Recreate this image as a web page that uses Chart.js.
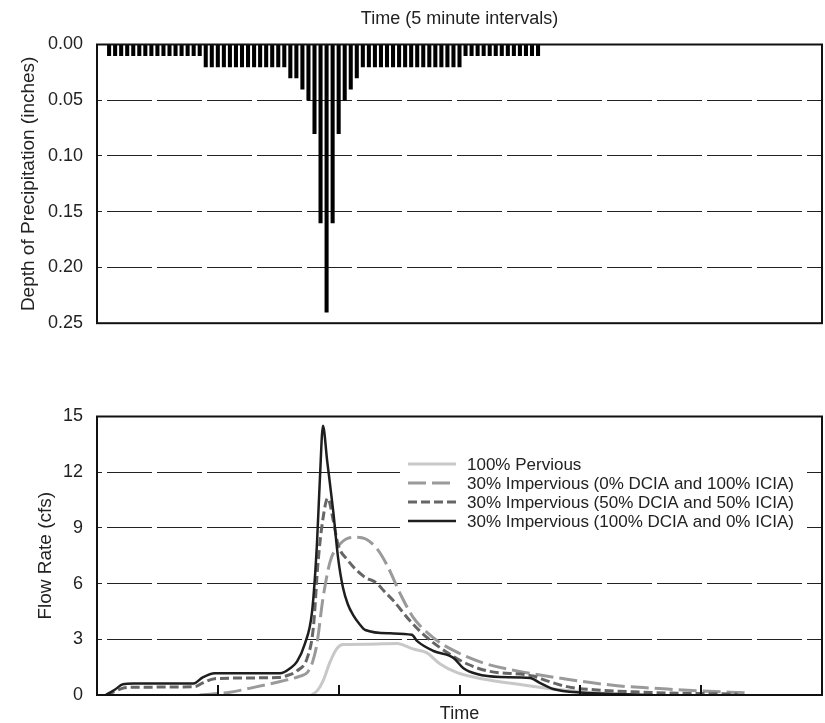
<!DOCTYPE html>
<html>
<head>
<meta charset="utf-8">
<script src="https://cdn.jsdelivr.net/npm/chart.js@4"></script>
<style>
  html, body { margin: 0; padding: 0; background: #fff; overflow: hidden; }
  #wrap { position: relative; width: 825px; height: 723px; }
  canvas { position: absolute; left: 0; }
  #rainChart { top: 0; }
  #flowChart { top: 380px; }
</style>
</head>
<body>
<div id="wrap">
  <canvas id="rainChart" width="825" height="348"></canvas>
  <canvas id="flowChart" width="825" height="345"></canvas>
</div>
<script>
/* ---------- data ---------- */

// hyetograph: 5-minute interval number and depth (inches)
const precipTime = [
   2,  3,  4,  5,  6,  7,  8,  9, 10, 11, 12, 13, 14, 15, 16, 17,
  18, 19, 20, 21, 22, 23, 24, 25, 26, 27, 28, 29, 30, 31,
  32, 33, 34, 35, 36, 37, 38, 39, 40, 41, 42, 43,
  44, 45, 46, 47, 48, 49, 50, 51, 52, 53, 54, 55, 56, 57, 58, 59, 60,
  61, 62, 63, 64, 65, 66, 67, 68, 69, 70, 71, 72, 73
];
const precipDepth = [
  0.01, 0.01, 0.01, 0.01, 0.01, 0.01, 0.01, 0.01, 0.01, 0.01, 0.01, 0.01, 0.01, 0.01, 0.01, 0.01,
  0.02, 0.02, 0.02, 0.02, 0.02, 0.02, 0.02, 0.02, 0.02, 0.02, 0.02, 0.02, 0.02, 0.02,
  0.03, 0.03, 0.04, 0.05, 0.08, 0.16, 0.24, 0.16, 0.08, 0.05, 0.04, 0.03,
  0.02, 0.02, 0.02, 0.02, 0.02, 0.02, 0.02, 0.02, 0.02, 0.02, 0.02, 0.02, 0.02, 0.02, 0.02, 0.02, 0.02,
  0.01, 0.01, 0.01, 0.01, 0.01, 0.01, 0.01, 0.01, 0.01, 0.01, 0.01, 0.01, 0.01
];

// hydrographs (time in 5-minute intervals, flow in cfs)
const seriesLabels = [
  "100% Pervious",
  "30% Impervious (0% DCIA and 100% ICIA)",
  "30% Impervious (50% DCIA and 50% ICIA)",
  "30% Impervious (100% DCIA and 0% ICIA)"
];

const perviousTime = [35.5, 36.5, 37.4, 38.6, 39.7, 40.7, 45, 49.7, 51, 52.3, 54.6, 56.8, 59.6, 63.9, 69.5, 75.5, 80.5, 86, 90];
const perviousFlow = [0, 0.25, 0.75, 1.8, 2.5, 2.72, 2.74, 2.78, 2.65, 2.48, 2.27, 1.67, 1.2, 0.86, 0.59, 0.32, 0.16, 0.05, 0];

const icia100Time = [17, 22, 26.5, 30, 32, 33.5, 34.9, 35.7, 36.4, 37.4, 38.6, 39.9, 41.6, 43, 44.5, 46.3, 48, 50.2, 52.3, 55.6, 59, 63.9, 69.5, 77.8, 86.1, 94.4, 99.8, 107.6];
const icia100Flow = [0, 0.15, 0.45, 0.7, 0.86, 1.0, 1.25, 1.8, 2.75, 5.2, 7.2, 8.0, 8.45, 8.5, 8.4, 7.9, 7.0, 5.45, 4.2, 3.1, 2.4, 1.73, 1.3, 0.85, 0.5, 0.32, 0.22, 0.12];

const dcia50Time = [1.5, 3, 4.3, 6, 16.2, 17.5, 19.5, 29.8, 31.5, 33.1, 34.8, 35.8, 36.6, 37.4, 38.2, 39.1, 39.9, 41.4, 44.1, 46.4, 47.5, 49, 51.8, 54.6, 58.4, 61.3, 64.6, 72.2, 74.5, 77.8, 83.3, 88.7, 94.4, 99.9, 106];
const dcia50Flow = [0, 0.2, 0.37, 0.42, 0.45, 0.65, 0.88, 0.94, 1.05, 1.3, 2.0, 3.6, 7.2, 9.5, 10.6, 9.4, 8.1, 7.3, 6.4, 6.0, 5.6, 5.1, 4.0, 3.1, 2.2, 1.67, 1.3, 1.02, 0.76, 0.45, 0.26, 0.17, 0.11, 0.08, 0.05];

const dcia100Time = [1.5, 3, 4.3, 6, 16, 17.5, 19.5, 30.3, 32, 33.1, 34.4, 35.6, 36.4, 36.9, 37.4, 38.1, 39.1, 39.9, 40.7, 41.5, 42.4, 43.5, 44.4, 48.5, 52.1, 53, 55.7, 59, 60.6, 62.9, 66.7, 71.7, 73.3, 75.5, 80.5, 86, 92];
const dcia100Flow = [0, 0.3, 0.58, 0.62, 0.62, 0.95, 1.17, 1.17, 1.45, 1.8, 2.75, 4.5, 8.1, 11.7, 14.5, 12.6, 9.9, 7.4, 5.8, 4.9, 4.3, 3.8, 3.5, 3.32, 3.24, 2.9, 2.37, 2.0, 1.46, 1.13, 0.97, 0.92, 0.65, 0.32, 0.12, 0.05, 0];

// axis ticks
const timeTicks = [20, 40, 60, 80, 100];

/* ---------- shared bits ---------- */

Chart.defaults.font.family = "'Liberation Sans', Arial, sans-serif";
Chart.defaults.color = "#222";

function pts(times, values){
    return times.map(function(t, i){ return { x: t, y: values[i] }; });
}

// black box round the plot area
const frameBox = {
    id: "frameBox",
    afterDatasetsDraw: function(chart){
        const ctx = chart.ctx, a = chart.chartArea;
        ctx.save();
        ctx.strokeStyle = "#111";
        ctx.lineWidth = 2;
        ctx.strokeRect(a.left, a.top, a.right - a.left, a.bottom - a.top);
        ctx.restore();
    }
};

// short inward ticks on the time axis
const timeTickMarks = {
    id: "timeTickMarks",
    afterDatasetsDraw: function(chart){
        const ctx = chart.ctx, a = chart.chartArea, xs = chart.scales.x;
        ctx.save();
        ctx.strokeStyle = "#111";
        ctx.lineWidth = 2;
        timeTicks.forEach(function(t){
            const px = Math.round(xs.getPixelForValue(t));
            ctx.beginPath();
            ctx.moveTo(px, a.bottom);
            ctx.lineTo(px, a.bottom - 10);
            ctx.stroke();
        });
        ctx.restore();
    }
};

// legend drawn inside the plot, on a white box
const flowLegend = {
    id: "flowLegend",
    afterDatasetsDraw: function(chart){
        const ctx = chart.ctx;
        ctx.save();
        ctx.fillStyle = "#fff";
        ctx.fillRect(400, 72, 404, 82);
        ctx.font = "17px 'Liberation Sans', Arial, sans-serif";
        ctx.textBaseline = "middle";
        chart.data.datasets.forEach(function(ds, i){
            const y = 84 + i * 19;
            ctx.strokeStyle = ds.borderColor;
            ctx.lineWidth = ds.borderWidth;
            ctx.setLineDash(ds.borderDash || []);
            ctx.beginPath();
            ctx.moveTo(408, y);
            ctx.lineTo(456, y);
            ctx.stroke();
            ctx.setLineDash([]);
            ctx.fillStyle = "#222";
            ctx.fillText(ds.label, 467, y + 1);
        });
        ctx.restore();
    }
};

/* ---------- precipitation ---------- */

new Chart(document.getElementById("rainChart"), {
    type: "bar",
    data: {
        datasets: [{
            data: pts(precipTime, precipDepth),
            backgroundColor: "#000",
            barThickness: 3.4
        }]
    },
    options: {
        responsive: false,
        animation: false,
        layout: { padding: { top: 0, right: 3, bottom: 0, left: 0 } },
        plugins: { legend: { display: false }, tooltip: { enabled: false } },
        scales: {
            x: {
                type: "linear",
                position: "top",
                min: 0,
                max: 120,
                offset: false,
                grid: { display: false },
                border: { display: false },
                ticks: { display: false },
                title: {
                    display: true,
                    text: "Time (5 minute intervals)",
                    font: { size: 18 },
                    padding: { top: 8, bottom: 0 }
                },
                afterFit: function(s){ s.height = 44.5; }
            },
            y: {
                reverse: true,
                min: 0,
                max: 0.25,
                ticks: {
                    stepSize: 0.05,
                    padding: 14,
                    font: { size: 18 },
                    callback: function(v){ return v.toFixed(2); }
                },
                grid: {
                    drawTicks: false,
                    color: function(c){
                        return (c.tick.value > 0.001 && c.tick.value < 0.249) ? "#222" : "transparent";
                    }
                },
                border: { display: false, dash: [45, 5], dashOffset: 40 },
                title: {
                    display: true,
                    text: "Depth of Precipitation (inches)",
                    font: { size: 19 },
                    padding: { top: 17, bottom: 0 }
                },
                afterFit: function(s){ s.width = 97; }
            }
        }
    },
    plugins: [frameBox]
});

/* ---------- runoff ---------- */

new Chart(document.getElementById("flowChart"), {
    type: "line",
    data: {
        datasets: [
            {
                label: seriesLabels[0],
                data: pts(perviousTime, perviousFlow),
                borderColor: "#c8c8c8",
                borderWidth: 3,
                order: 4
            },
            {
                label: seriesLabels[1],
                data: pts(icia100Time, icia100Flow),
                borderColor: "#9a9a9a",
                borderWidth: 3,
                borderDash: [18, 6],
                order: 3
            },
            {
                label: seriesLabels[2],
                data: pts(dcia50Time, dcia50Flow),
                borderColor: "#666",
                borderWidth: 3,
                borderDash: [9, 4],
                order: 2
            },
            {
                label: seriesLabels[3],
                data: pts(dcia100Time, dcia100Flow),
                borderColor: "#1e1e1e",
                borderWidth: 2.5,
                order: 1
            }
        ]
    },
    options: {
        responsive: false,
        animation: false,
        layout: { padding: { top: 36.5, right: 3, bottom: 0, left: 0 } },
        elements: {
            point: { radius: 0 },
            line: { cubicInterpolationMode: "monotone", fill: false }
        },
        plugins: { legend: { display: false }, tooltip: { enabled: false } },
        scales: {
            x: {
                type: "linear",
                min: 0,
                max: 120,
                grid: { display: false },
                border: { display: false },
                ticks: { display: false },
                title: {
                    display: true,
                    text: "Time",
                    font: { size: 18 },
                    padding: { top: 0, bottom: 0 }
                },
                afterFit: function(s){ s.height = 30; }
            },
            y: {
                min: 0,
                max: 15,
                ticks: { stepSize: 3, padding: 14, font: { size: 18 } },
                grid: {
                    drawTicks: false,
                    color: function(c){
                        return (c.tick.value > 0 && c.tick.value < 15) ? "#222" : "transparent";
                    }
                },
                border: { display: false, dash: [45, 5], dashOffset: 40 },
                title: {
                    display: true,
                    text: "Flow Rate (cfs)",
                    font: { size: 19 },
                    padding: { top: 34, bottom: 0 }
                },
                afterFit: function(s){ s.width = 97; }
            }
        }
    },
    plugins: [frameBox, timeTickMarks, flowLegend]
});
</script>
</body>
</html>
